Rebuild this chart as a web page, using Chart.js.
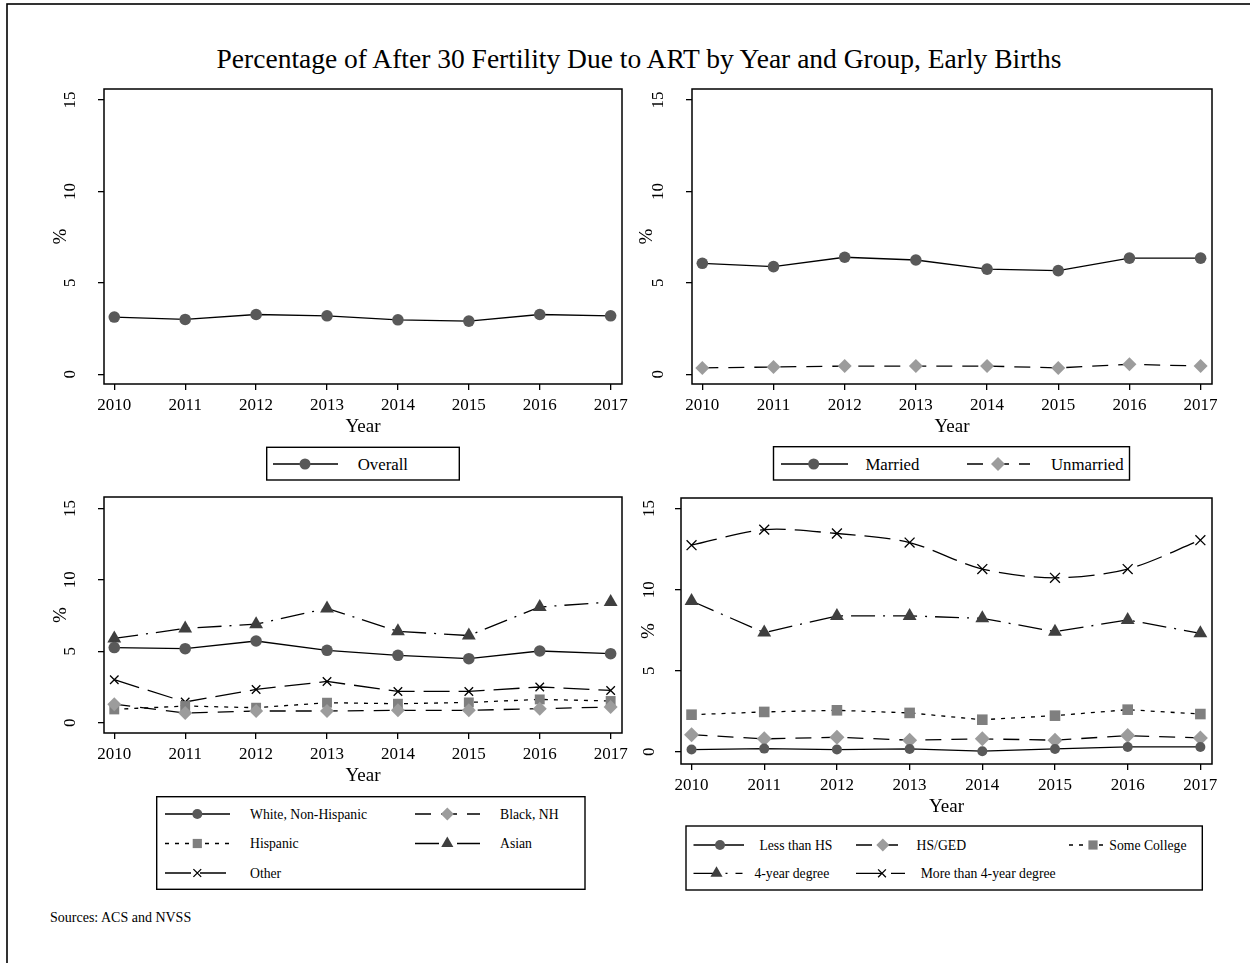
<!DOCTYPE html>
<html>
<head>
<meta charset="utf-8">
<script src="https://cdn.jsdelivr.net/npm/chart.js@4.4.1/dist/chart.umd.min.js"></script>
<style>
  body { margin: 0; background: #fff; width: 1250px; height: 963px; overflow: hidden; position: relative; }
  canvas { position: absolute; }
  #art { position: absolute; left: 0; top: 0; }
</style>
</head>
<body>
<svg id="art" width="1250" height="963"></svg>
<canvas id="c1" width="607" height="384" style="left:30px;top:54px"></canvas>
<canvas id="c2" width="607" height="384" style="left:620px;top:54px"></canvas>
<canvas id="c3" width="607" height="325" style="left:30px;top:462px"></canvas>
<canvas id="c4" width="607" height="355" style="left:620px;top:463px"></canvas>
<script>
// values
const years = [2010, 2011, 2012, 2013, 2014, 2015, 2016, 2017];
const yTicks = [0, 5, 10, 15];

const overall   = [3.13, 3.00, 3.27, 3.20, 2.98, 2.91, 3.27, 3.20];
const married   = [6.07, 5.89, 6.40, 6.25, 5.75, 5.67, 6.35, 6.35];
const unmarried = [0.35, 0.40, 0.45, 0.45, 0.45, 0.35, 0.55, 0.45];

const white    = [5.26, 5.18, 5.72, 5.07, 4.72, 4.48, 5.02, 4.83];
const black    = [1.30, 0.68, 0.82, 0.82, 0.87, 0.87, 0.98, 1.10];
const hispanic = [0.93, 1.17, 1.05, 1.40, 1.33, 1.42, 1.63, 1.52];
const asian    = [5.90, 6.60, 6.90, 8.00, 6.40, 6.10, 8.10, 8.45];
const other    = [3.01, 1.45, 2.33, 2.89, 2.19, 2.19, 2.50, 2.26];

const lessHS      = [0.14, 0.20, 0.14, 0.18, 0.04, 0.18, 0.30, 0.30];
const hsGed       = [1.06, 0.80, 0.90, 0.72, 0.80, 0.72, 1.00, 0.86];
const someCollege = [2.29, 2.46, 2.56, 2.40, 1.98, 2.23, 2.60, 2.33];
const fourYear    = [9.30, 7.35, 8.38, 8.38, 8.23, 7.41, 8.13, 7.31];
const moreFour    = [12.74, 13.70, 13.46, 12.90, 11.27, 10.73, 11.27, 13.05];

const serif = "'Liberation Serif', 'Times New Roman', serif";

const DASH = { solid: [], dash: [16, 10], short: [4, 6], dashDot: [24, 8, 2, 8], long: [26, 9] };
const SHAPE = {
  circle:   { ps: 'circle',   color: '#595959' },
  diamond:  { ps: 'rectRot',  color: '#9c9c9c' },
  square:   { ps: 'rect',     color: '#7f7f7f' },
  triangle: { ps: 'triangle', color: '#3f3f3f' },
  x:        { ps: 'crossRot', color: '#000' },
};

function series(vals, dash, shape, r, tension) {
  return {
    data: years.map((x, i) => ({ x, y: vals[i] })),
    borderColor: '#000',
    borderWidth: 1.3,
    borderDash: DASH[dash],
    tension: tension || 0,
    pointStyle: SHAPE[shape].ps,
    pointRadius: r,
    pointHoverRadius: r,
    pointBackgroundColor: SHAPE[shape].color,
    pointBorderColor: SHAPE[shape].color,
    pointBorderWidth: shape === 'x' ? 1.3 : 0,
  };
}

// box round the plot region, Stata style
const frame = {
  id: 'frame',
  beforeDatasetsDraw(chart) {
    const { ctx, chartArea: a } = chart;
    ctx.save();
    ctx.strokeStyle = '#000';
    ctx.lineWidth = 1.5;
    ctx.strokeRect(a.left, a.top, a.right - a.left, a.bottom - a.top);
    ctx.restore();
  },
};

function panel(id, datasets, yMin, yMax, axisW, titlePad, tickPad) {
  const grid = { drawOnChartArea: false, tickLength: 6, color: '#000', lineWidth: 1.3 };
  new Chart(document.getElementById(id), {
    type: 'line',
    data: { datasets },
    options: {
      responsive: false,
      animation: false,
      devicePixelRatio: 1,
      layout: { padding: { top: 35, right: 15, bottom: 0, left: 0 } },
      plugins: { legend: { display: false }, tooltip: { enabled: false } },
      scales: {
        x: {
          type: 'linear', min: 2009.855, max: 2017.16,
          afterBuildTicks: s => { s.ticks = years.map(v => ({ value: v })); },
          afterFit: s => { s.height = 54; },
          grid, border: { display: false },
          ticks: { padding: 5, color: '#000', font: { family: serif, size: 17 }, callback: v => String(v), maxRotation: 0, autoSkip: false },
          title: { display: true, text: 'Year', color: '#000', font: { family: serif, size: 19 }, padding: 0 },
        },
        y: {
          min: yMin, max: yMax,
          afterBuildTicks: s => { s.ticks = yTicks.map(v => ({ value: v })); },
          afterFit: s => { s.width = axisW; },
          grid, border: { display: false },
          ticks: { padding: tickPad, crossAlign: 'center', minRotation: 90, maxRotation: 90, color: '#000', font: { family: serif, size: 17 } },
          title: { display: true, text: '%', color: '#000', font: { family: serif, size: 19 }, padding: { top: titlePad, bottom: 0 } },
        },
      },
    },
    plugins: [frame],
  });
}

panel('c1', [series(overall, 'solid', 'circle', 5.8)], -0.53, 15.6, 74, 19.5, 19);
panel('c2', [
  series(married, 'solid', 'circle', 5.8),
  series(unmarried, 'dash', 'diamond', 7),
], -0.53, 15.6, 72, 15.6, 19);
panel('c3', [
  series(white, 'solid', 'circle', 5.8),
  series(black, 'dash', 'diamond', 7),
  series(hispanic, 'short', 'square', 7),
  series(asian, 'dashDot', 'triangle', 8),
  series(other, 'long', 'x', 6),
], -0.72, 15.8, 74, 19.5, 19);
panel('c4', [
  series(lessHS, 'solid', 'circle', 5),
  series(hsGed, 'dash', 'diamond', 7.5),
  series(someCollege, 'short', 'square', 7.5),
  series(fourYear, 'dashDot', 'triangle', 8),
  series(moreFour, 'long', 'x', 7, 0.3),
], -0.75, 15.65, 61, 17.6, 16.5);

// title, legends, note
const svgNS = 'http://www.w3.org/2000/svg';
const art = document.getElementById('art');
function el(tag, attrs, text) {
  const n = document.createElementNS(svgNS, tag);
  for (const k in attrs) n.setAttribute(k, attrs[k]);
  if (text) n.textContent = text;
  art.appendChild(n);
  return n;
}
function txt(x, y, size, s, anchor) {
  el('text', { x, y, 'font-size': size, 'font-family': serif, fill: '#000', 'dominant-baseline': 'central', 'text-anchor': anchor || 'start' }, s);
}
function box(x, y, w, h) {
  el('rect', { x, y, width: w, height: h, fill: '#fff', stroke: '#000', 'stroke-width': 1.4 });
}
function marker(shape, cx, cy, r) {
  const c = SHAPE[shape].color;
  if (shape === 'circle') el('circle', { cx, cy, r, fill: c });
  else if (shape === 'diamond') el('polygon', { points: `${cx},${cy - r} ${cx + r},${cy} ${cx},${cy + r} ${cx - r},${cy}`, fill: c });
  else if (shape === 'square') { const h = r * Math.SQRT1_2; el('rect', { x: cx - h, y: cy - h, width: 2 * h, height: 2 * h, fill: c }); }
  else if (shape === 'triangle') el('polygon', { points: `${cx},${cy - r} ${cx + 0.866 * r},${cy + 0.5 * r} ${cx - 0.866 * r},${cy + 0.5 * r}`, fill: c });
  else {
    const h = r * Math.SQRT1_2;
    el('path', { d: `M${cx - h},${cy - h}L${cx + h},${cy + h}M${cx - h},${cy + h}L${cx + h},${cy - h}`, stroke: c, 'stroke-width': 1.3 });
  }
}
function key(x1, x2, mx, y, dash, shape, r, label, tx, size) {
  el('line', { x1, y1: y, x2, y2: y, stroke: '#000', 'stroke-width': 1.3, 'stroke-dasharray': DASH[dash].length ? DASH[dash].join(' ') : 'none' });
  marker(shape, mx, y, r);
  txt(tx, y, size, label);
}

el('rect', { x: 7, y: 4, width: 1400, height: 1100, fill: 'none', stroke: '#000', 'stroke-width': 1.6 });
txt(639, 58, 27.5, 'Percentage of After 30 Fertility Due to ART by Year and Group, Early Births', 'middle');

box(266.7, 447.3, 192.6, 32.7);
key(273, 338, 305, 464, 'solid', 'circle', 5.5, 'Overall', 357.7, 16.8);

box(773.5, 446.7, 356, 33.3);
key(781, 848, 813.7, 464, 'solid', 'circle', 5.5, 'Married', 865.4, 16.8);
key(967, 1030, 998, 464, 'dash', 'diamond', 7, 'Unmarried', 1051, 16.8);

box(156.7, 796.7, 428.3, 92.6);
key(165, 230, 197.3, 814, 'solid', 'circle', 5, 'White, Non-Hispanic', 250, 13.7);
key(415, 480, 447.3, 814, 'dash', 'diamond', 6.5, 'Black, NH', 500, 13.7);
key(165, 230, 197.3, 843.5, 'short', 'square', 6.5, 'Hispanic', 250, 13.7);
key(415, 480, 447.3, 843.5, 'dashDot', 'triangle', 7, 'Asian', 500, 13.7);
key(165, 230, 197.3, 873, 'long', 'x', 5.5, 'Other', 250, 13.7);

box(686, 826, 516.3, 64);
key(693.5, 744, 720, 845, 'solid', 'circle', 5, 'Less than HS', 759.4, 13.7);
key(856, 903, 882.8, 845, 'dash', 'diamond', 6.5, 'HS/GED', 916.6, 13.7);
key(1069, 1108, 1093, 845, 'short', 'square', 6.5, 'Some College', 1109.3, 13.7);
key(693.5, 742.5, 716.5, 873.3, 'dashDot', 'triangle', 7, '4-year degree', 754.4, 13.7);
key(856, 905, 882, 873.3, 'long', 'x', 5.5, 'More than 4-year degree', 920.7, 13.7);

txt(50, 917, 14, 'Sources: ACS and NVSS');
</script>
</body>
</html>
